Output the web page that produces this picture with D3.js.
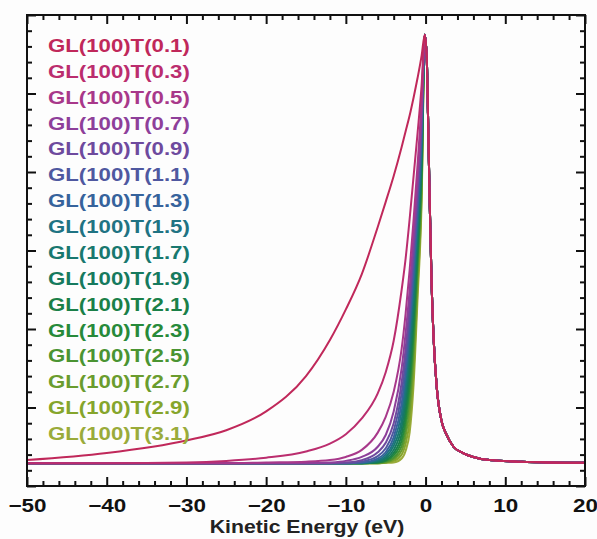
<!DOCTYPE html>
<html><head><meta charset="utf-8">
<script src="https://cdn.jsdelivr.net/npm/d3@7"></script>
<style>
html,body{margin:0;padding:0;background:#fdfdfd;}
text{font-family:"Liberation Sans",Arial,sans-serif;font-weight:bold;}
</style></head>
<body>
<svg id="c" width="597" height="539"></svg>
<script>
const labels = ["GL(100)T(0.1)","GL(100)T(0.3)","GL(100)T(0.5)","GL(100)T(0.7)","GL(100)T(0.9)","GL(100)T(1.1)","GL(100)T(1.3)","GL(100)T(1.5)","GL(100)T(1.7)","GL(100)T(1.9)","GL(100)T(2.1)","GL(100)T(2.3)","GL(100)T(2.5)","GL(100)T(2.7)","GL(100)T(2.9)","GL(100)T(3.1)"];
const colors = ["#c0285a","#bb2d6e","#a8388a","#8e3f9a","#6e4a9e","#4f58a0","#36639c","#1f7383","#18786f","#167a5e","#1a8048","#278a3a","#4a9432","#6a9c2e","#85a52c","#9aab3a"];
const xTicks = [-50,-40,-30,-20,-10,0,10,20];
// energy grid (eV) of the leading (low-energy) side, shared by all series
const leftX  = [-50,-40,-30,-25,-20,-15,-12,-10,-8,-6,-5,-4,-3,-2.5,-2,-1.5,-1,-0.5,-0.1];
// trailing side (common to all series)
const rightX = [0.15,0.3,0.5,0.75,1.0,1.4,2.0,2.6,3.5,4.7,6,8,12,20];
const rightY = [5.45,4.75,3.7,2.6,1.9,1.26,0.83,0.66,0.5,0.42,0.37,0.33,0.31,0.295];
const t01 = [.33,.42,.58,.71,.95,1.40,1.86,2.25,2.70,3.30,3.62,3.95,4.32,4.52,4.72,4.95,5.2,5.48,5.75];
const t03 = [.29,.29,.30,.32,.36,.44,.54,.66,.86,1.18,1.45,1.85,2.5,2.9,3.4,3.95,4.5,5.1,5.75];
const t05 = [.29,.29,.29,.29,.30,.31,.33,.37,.46,.68,.88,1.2,1.75,2.2,2.75,3.4,4.1,4.9,5.75];
const t07 = [.29,.29,.29,.29,.29,.29,.30,.32,.37,.50,.65,.95,1.5,1.95,2.5,3.2,3.9,4.8,5.75];
const t09 = [.29,.29,.29,.29,.29,.29,.29,.30,.33,.43,.55,.80,1.32,1.75,2.32,3.02,3.78,4.7,5.75];
const t11 = [.29,.29,.29,.29,.29,.29,.29,.29,.31,.38,.48,.70,1.18,1.60,2.18,2.88,3.65,4.6,5.75];
const t13 = [.29,.29,.29,.29,.29,.29,.29,.29,.30,.35,.43,.62,1.05,1.45,2.02,2.72,3.52,4.5,5.75];
const t15 = [.29,.29,.29,.29,.29,.29,.29,.29,.295,.33,.40,.56,.94,1.32,1.88,2.58,3.4,4.4,5.75];
const t17 = [.29,.29,.29,.29,.29,.29,.29,.29,.29,.32,.37,.51,.84,1.2,1.73,2.42,3.28,4.3,5.75];
const t19 = [.29,.29,.29,.29,.29,.29,.29,.29,.29,.31,.35,.46,.75,1.08,1.58,2.28,3.16,4.2,5.75];
const t21 = [.29,.29,.29,.29,.29,.29,.29,.29,.29,.30,.33,.42,.66,.96,1.43,2.12,3.04,4.1,5.75];
const t23 = [.29,.29,.29,.29,.29,.29,.29,.29,.29,.30,.32,.39,.58,.85,1.28,1.96,2.92,4.0,5.75];
const t25 = [.29,.29,.29,.29,.29,.29,.29,.29,.29,.295,.31,.36,.51,.74,1.13,1.80,2.8,3.9,5.75];
const t27 = [.29,.29,.29,.29,.29,.29,.29,.29,.29,.29,.30,.34,.45,.64,.98,1.64,2.68,3.8,5.75];
const t29 = [.29,.29,.29,.29,.29,.29,.29,.29,.29,.29,.30,.32,.40,.54,.83,1.47,2.54,3.7,5.75];
const t31 = [.29,.29,.29,.29,.29,.29,.29,.29,.29,.29,.295,.30,.35,.45,.68,1.3,2.4,3.6,5.75];
const leftY = [t01,t03,t05,t07,t09,t11,t13,t15,t17,t19,t21,t23,t25,t27,t29,t31];

const L = 27, R = 585, T = 15, B = 486;
const x = d3.scaleLinear().domain([-50,20]).range([L,R]);
const y = d3.scaleLinear().domain([0,6]).range([B,T]);
const svg = d3.select("#c");

svg.append("defs").append("clipPath").attr("id","clip")
  .append("rect").attr("x",L).attr("y",T).attr("width",R-L).attr("height",B-T);

const line = d3.line().x(d=>x(d[0])).y(d=>y(d[1])).curve(d3.curveMonotoneX);
const g = svg.append("g").attr("clip-path","url(#clip)");
for (let i = labels.length-1; i >= 0; i--) {
  const pts = leftX.map((v,k)=>[v,leftY[i][k]]).concat(rightX.map((v,k)=>[v,rightY[k]]));
  g.append("path").attr("d",line(pts)).attr("fill","none")
    .attr("stroke",colors[i]).attr("stroke-width",2);
}

// axes
const minorX = d3.range(-50,21,2).filter(v=>v%10!==0);
const majorY = d3.range(0,6.01,1);
const minorY = d3.range(0,6.01,0.2).filter(v=>Math.abs(v-Math.round(v))>0.01);
function styleAxis(sel){ sel.select(".domain").remove(); sel.selectAll("line").attr("stroke","#111").attr("stroke-width",2); }

svg.append("g").attr("transform",`translate(0,${B})`).call(d3.axisBottom(x).tickValues(xTicks).tickSize(-9).tickPadding(8).tickFormat(d3.format("d"))).call(styleAxis)
  .selectAll("text").attr("font-size",19).attr("fill","#111").attr("transform","scale(1.18,1)").attr("dy","0.95em");
svg.append("g").attr("transform",`translate(0,${B})`).call(d3.axisBottom(x).tickValues(minorX).tickSize(-5).tickFormat("")).call(styleAxis);
svg.append("g").attr("transform",`translate(0,${T})`).call(d3.axisTop(x).tickValues(xTicks).tickSize(-9).tickFormat("")).call(styleAxis);
svg.append("g").attr("transform",`translate(0,${T})`).call(d3.axisTop(x).tickValues(minorX).tickSize(-5).tickFormat("")).call(styleAxis);
svg.append("g").attr("transform",`translate(${L},0)`).call(d3.axisLeft(y).tickValues(majorY).tickSize(-9).tickFormat("")).call(styleAxis);
svg.append("g").attr("transform",`translate(${L},0)`).call(d3.axisLeft(y).tickValues(minorY).tickSize(-5).tickFormat("")).call(styleAxis);
svg.append("g").attr("transform",`translate(${R},0)`).call(d3.axisRight(y).tickValues(majorY).tickSize(-9).tickFormat("")).call(styleAxis);
svg.append("g").attr("transform",`translate(${R},0)`).call(d3.axisRight(y).tickValues(minorY).tickSize(-5).tickFormat("")).call(styleAxis);
svg.append("rect").attr("x",L).attr("y",T).attr("width",R-L).attr("height",B-T)
  .attr("fill","none").attr("stroke","#111").attr("stroke-width",2);

svg.append("text").attr("transform",`translate(${(L+R)/2+1},533) scale(1.18,1)`)
  .attr("text-anchor","middle").attr("font-size",18).attr("fill","#222").text("Kinetic Energy (eV)");

// legend
labels.forEach((t,i)=>{
  svg.append("text").attr("transform",`translate(48,${52+i*25.87}) scale(1.2,1)`)
    .attr("font-size",18.5).attr("fill",colors[i]).text(t);
});
</script>
</body></html>
